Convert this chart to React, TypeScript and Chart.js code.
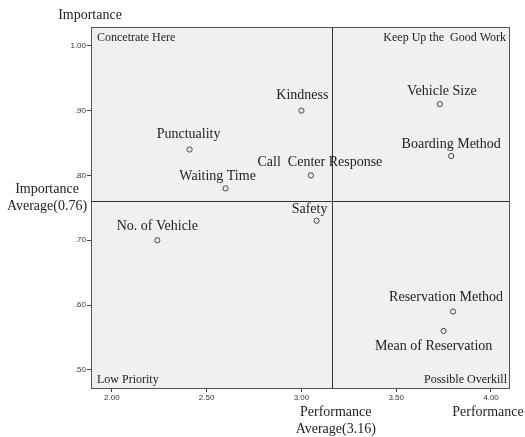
import React, { useEffect, useRef } from "react";
import { Chart, registerables } from "chart.js";

Chart.register(...registerables);

const attributes = [
  "Punctuality",
  "Waiting Time",
  "Kindness",
  "Vehicle Size",
  "Boarding Method",
  "Call  Center Response",
  "No. of Vehicle",
  "Safety",
  "Reservation Method",
  "Mean of Reservation",
];
const performance = [2.41, 2.6, 3.0, 3.73, 3.79, 3.05, 2.24, 3.08, 3.8, 3.75];
const importance = [0.84, 0.78, 0.9, 0.91, 0.83, 0.8, 0.7, 0.73, 0.59, 0.56];

const xTicks = [2.0, 2.5, 3.0, 3.5, 4.0];
const yTicks = [0.5, 0.6, 0.7, 0.8, 0.9, 1.0];

const performanceAverage = 3.16;
const importanceAverage = 0.76;

const quadrantNames = ["Concetrate Here", "Keep Up the  Good Work", "Low Priority", "Possible Overkill"];

// label placement relative to each point (styling only)
const labelDx = [-1, -8, 1, 2, 0, 9, 0, -7, -7, -10];
const labelDy = [-15, -12, -15, -13, -12, -13, -14, -11, -14, 15];

const SERIF = "'Liberation Serif', 'Times New Roman', serif";
const SANS = "'Liberation Sans', Arial, sans-serif";

function fmt(v: number): string {
  const s = v.toFixed(2);
  return s.startsWith("0") ? s.slice(1) : s;
}

const quadPlugin = {
  id: "quadPlugin",
  beforeDatasetsDraw(chart: any) {
    const { ctx, chartArea: a, scales } = chart;
    ctx.save();
    ctx.fillStyle = "#f0f0f0";
    ctx.fillRect(a.left, a.top, a.right - a.left, a.bottom - a.top);
    const xv = Math.round(scales.x.getPixelForValue(performanceAverage)) + 0.5;
    const yv = Math.round(scales.y.getPixelForValue(importanceAverage)) + 0.5;
    ctx.strokeStyle = "#333";
    ctx.lineWidth = 1;
    ctx.beginPath();
    ctx.moveTo(xv, a.top);
    ctx.lineTo(xv, a.bottom);
    ctx.moveTo(a.left, yv);
    ctx.lineTo(a.right, yv);
    ctx.stroke();
    ctx.restore();
  },
  afterDraw(chart: any) {
    const { ctx, chartArea: a, scales } = chart;
    ctx.save();
    ctx.strokeStyle = "#555";
    ctx.lineWidth = 1;
    ctx.strokeRect(Math.round(a.left) + 0.5, Math.round(a.top) + 0.5, Math.round(a.right - a.left), Math.round(a.bottom - a.top));

    // quadrant names
    ctx.fillStyle = "#222";
    ctx.font = `12px ${SERIF}`;
    ctx.textBaseline = "middle";
    ctx.textAlign = "left";
    ctx.fillText(quadrantNames[0], a.left + 6, a.top + 11);
    ctx.fillText(quadrantNames[2], a.left + 6, a.bottom - 8);
    ctx.textAlign = "right";
    ctx.fillText(quadrantNames[1], a.right - 3, a.top + 11);
    ctx.fillText(quadrantNames[3], a.right - 2, a.bottom - 8);

    // point labels
    ctx.font = `14px ${SERIF}`;
    ctx.textAlign = "center";
    attributes.forEach((name, i) => {
      const px = scales.x.getPixelForValue(performance[i]);
      const py = scales.y.getPixelForValue(importance[i]);
      ctx.fillText(name, px + labelDx[i], py + labelDy[i]);
    });

    // axis titles
    const xv = scales.x.getPixelForValue(performanceAverage);
    const yv = scales.y.getPixelForValue(importanceAverage);
    ctx.fillText("Importance", a.left - 1, 15);
    ctx.fillText("Importance", 47, yv - 12);
    ctx.fillText("Average(0.76)", 47, yv + 5);
    ctx.fillText("Performance", xv + 4, 412);
    ctx.fillText("Average(3.16)", xv + 4, 429);
    ctx.fillText("Performance", 488, 412);
    ctx.restore();
  },
};

export default function App() {
  const ref = useRef<HTMLCanvasElement | null>(null);
  useEffect(() => {
    if (!ref.current) return;
    const chart = new Chart(ref.current, {
      type: "scatter",
      data: {
        datasets: [
          {
            data: performance.map((p, i) => ({ x: p, y: importance[i] })),
            pointRadius: 2.6,
            pointBackgroundColor: "rgba(0,0,0,0)",
            pointBorderColor: "#444",
            pointBorderWidth: 1,
          },
        ],
      },
      options: {
        responsive: false,
        animation: false,
        devicePixelRatio: 1,
        layout: { padding: { left: 0, top: 27, right: 16, bottom: 0 } },
        plugins: { legend: { display: false }, tooltip: { enabled: false } },
        scales: {
          x: {
            type: "linear",
            min: 1.89,
            max: 4.095,
            afterBuildTicks: (s: any) => {
              s.ticks = xTicks.map((v) => ({ value: v }));
            },
            afterFit: (s: any) => {
              s.height = 49;
            },
            border: { display: false },
            grid: { drawOnChartArea: false, drawTicks: true, tickLength: 4, color: "#444" },
            ticks: {
              font: { family: SANS, size: 8 },
              color: "#333",
              padding: 1,
              maxRotation: 0,
              callback: (v: any) => Number(v).toFixed(2),
            },
          },
          y: {
            type: "linear",
            min: 0.472,
            max: 1.029,
            afterBuildTicks: (s: any) => {
              s.ticks = yTicks.map((v) => ({ value: v }));
            },
            afterFit: (s: any) => {
              s.width = 91;
            },
            border: { display: false },
            grid: { drawOnChartArea: false, drawTicks: true, tickLength: 4, color: "#444" },
            ticks: {
              font: { family: SANS, size: 8 },
              color: "#333",
              padding: 1,
              callback: (v: any) => fmt(Number(v)),
            },
          },
        },
      },
      plugins: [quadPlugin],
    } as any);
    return () => chart.destroy();
  }, []);
  return (
    <div style={{ position: "absolute", left: 0, top: 0, width: 525, height: 437, background: "#fff" }}>
      <canvas ref={ref} width={525} height={437} />
    </div>
  );
}
